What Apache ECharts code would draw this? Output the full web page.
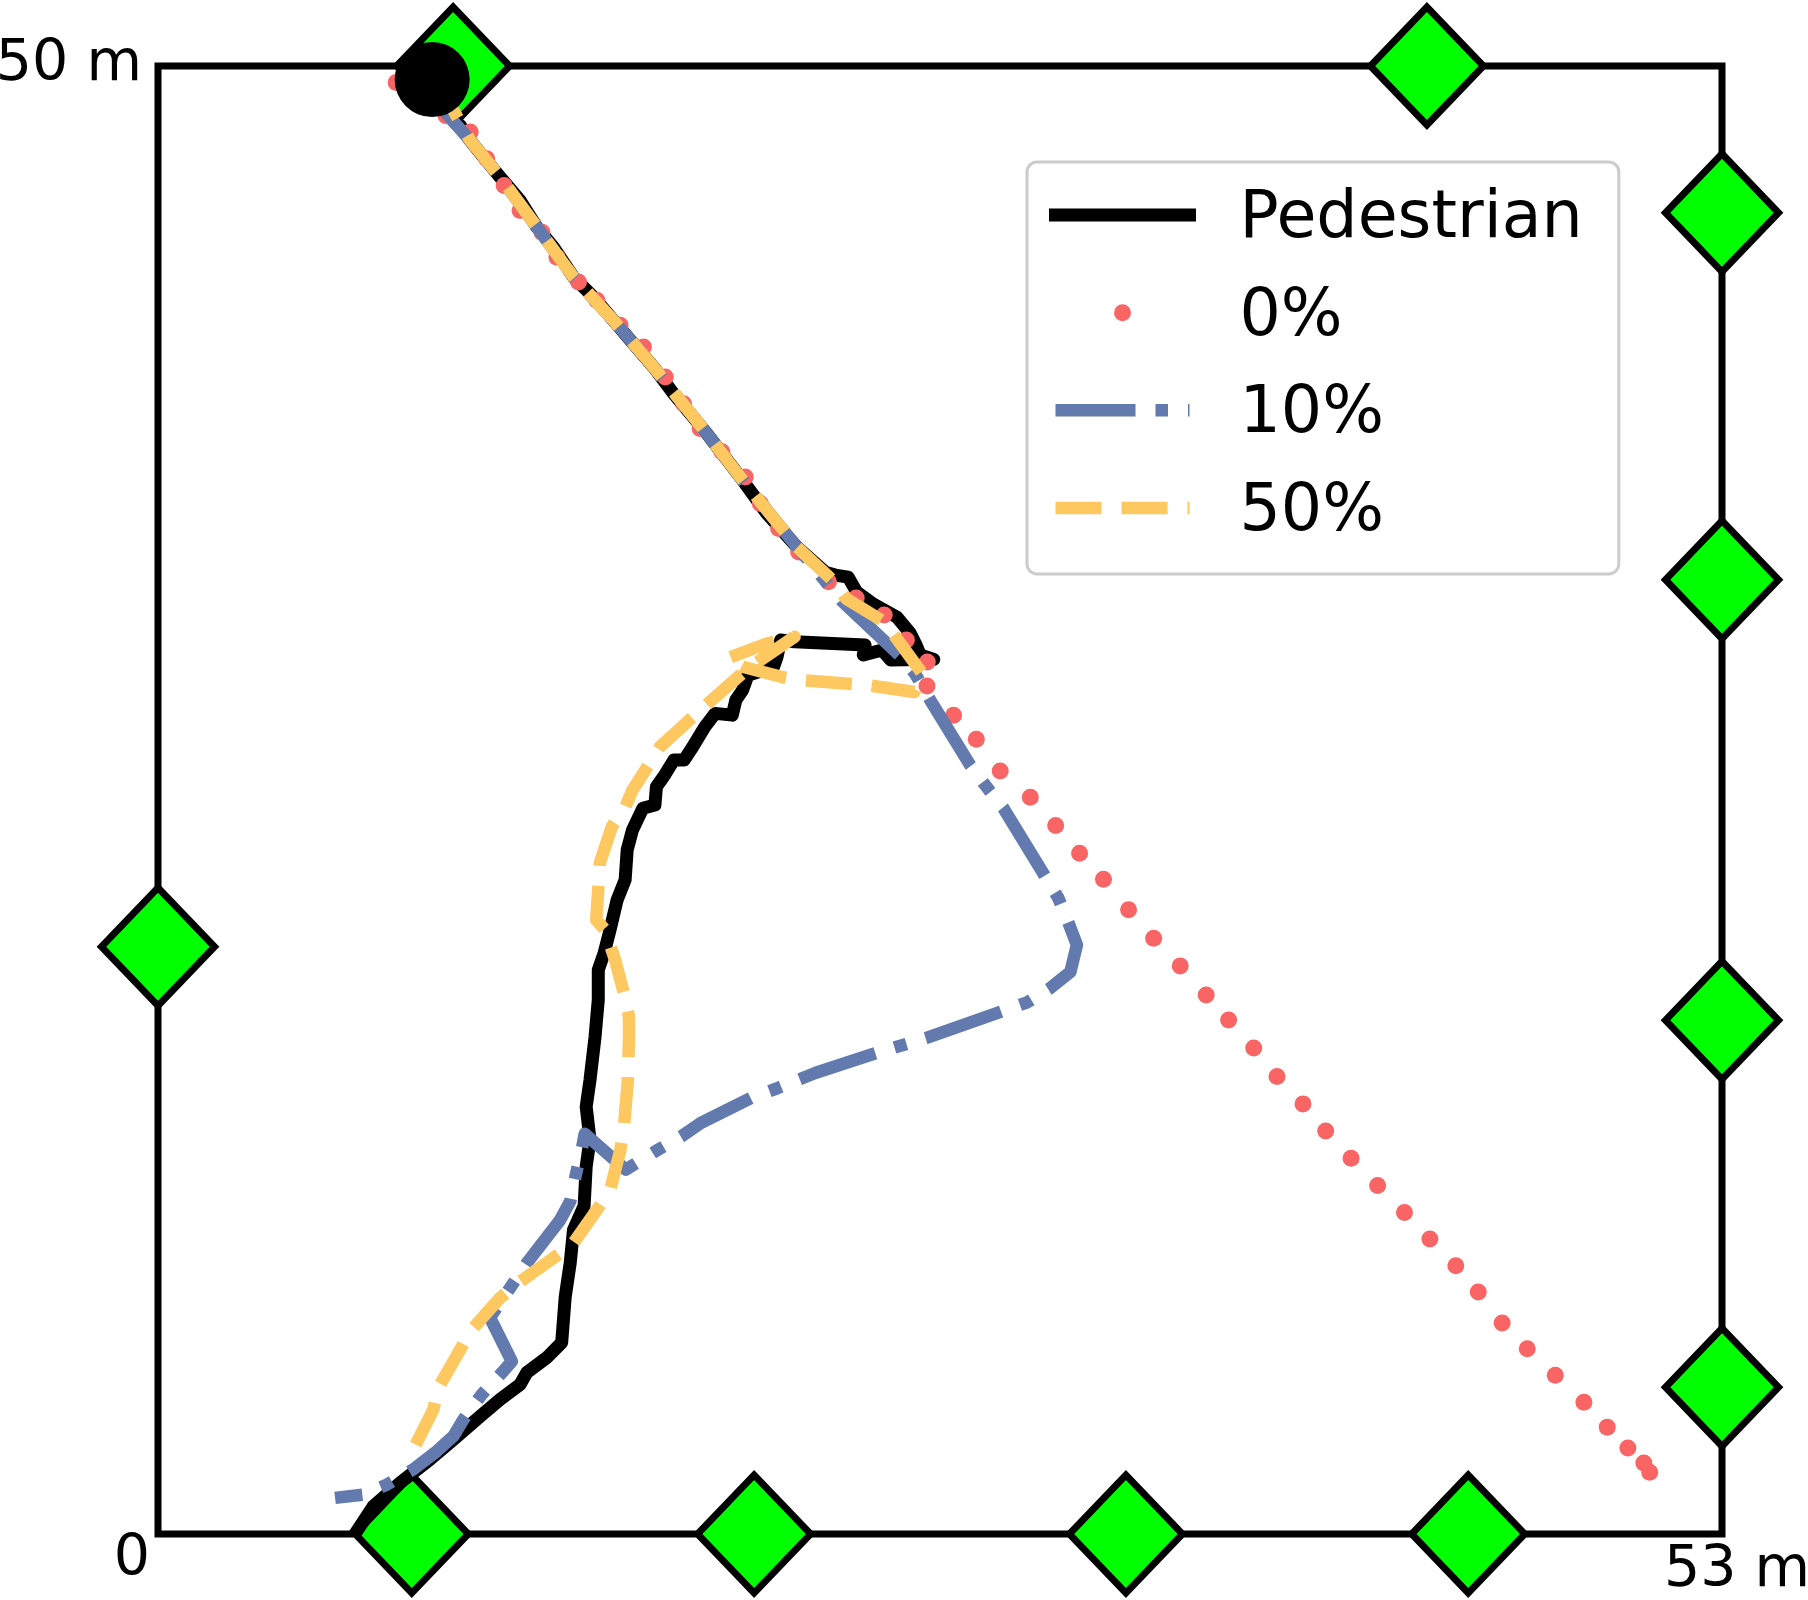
<!DOCTYPE html>
<html>
<head>
<meta charset="utf-8">
<title>Pedestrian tracking</title>
<script src="https://cdn.jsdelivr.net/npm/echarts@6.0.0/dist/echarts.min.js"></script>
<style>
  html, body { margin: 0; padding: 0; background: #fff; }
  #chart { width: 1808px; height: 1600px; }
</style>
</head>
<body>
<div id="chart"></div>
<script>
// room size in metres
var roomWidth = 53;
var roomHeight = 50;

// anchors (green diamonds) placed on the walls, [x, y] in m
var anchors = [
  [10.0, 50], [43.0, 50],
  [53, 45], [53, 32.5], [53, 17.5], [53, 5],
  [0, 20],
  [8.6, 0], [20.2, 0], [32.8, 0], [44.4, 0]
];

// start point of the walk
var startPoint = [[9.29, 49.54]];

// measured pedestrian path
var pedestrian = [
  [9.22,49.47],[9.79,48.37],[10.24,47.98],[10.58,47.46],[11.03,46.90],[11.59,46.22],[12.27,45.42],
  [12.84,44.51],[13.40,43.83],[14.08,42.81],[14.76,42.13],[15.43,41.34],[16.11,40.54],[16.79,39.75],
  [17.47,38.84],[18.60,37.48],[19.73,36.00],[20.63,34.76],[21.65,33.62],[22.61,32.76],[22.95,32.66],
  [23.39,32.59],[23.68,32.08],[24.25,31.67],[25.04,31.23],[25.49,30.68],[25.69,30.28],[25.83,29.94],
  [26.29,29.79],[24.83,29.77],[24.54,30.11],[23.90,29.94],[23.96,30.28],[21.57,30.39],[21.10,30.45],
  [20.98,29.88],[20.86,29.54],[19.99,29.25],[19.81,28.74],[19.58,28.40],[19.46,27.89],[18.88,27.95],
  [18.53,27.49],[18.12,26.81],[17.83,26.36],[17.48,26.36],[17.13,25.79],[16.89,25.45],[16.84,24.83],
  [16.43,24.72],[16.08,23.98],[15.90,23.30],[15.83,22.28],[15.56,21.60],[15.32,20.58],[15.12,19.79],
  [14.92,19.21],[14.92,18.19],[14.81,16.93],[14.64,15.47],[14.51,14.55],[14.64,13.43],[14.51,12.51],
  [14.44,11.18],[14.08,10.36],[13.97,9.24],[13.80,8.08],[13.68,6.52],[13.18,6.01],[12.50,5.50],
  [12.27,5.09],[11.59,4.58],[10.92,4.01],[10.01,3.22],[9.22,2.54],[8.20,1.74],[7.30,0.95],[6.74,0.10]
];

// estimate with 0 % (dots)
var est0 = [
  [8.07,49.44],[8.92,48.89],[9.76,48.31],[10.58,47.75],[11.14,46.84],[11.73,45.93],[12.27,45.08],
  [13.01,44.34],[13.52,43.49],[14.25,42.64],[14.87,42.02],[15.66,41.17],[16.45,40.43],[17.19,39.41],
  [17.81,38.50],[18.37,37.65],[19.11,36.86],[19.90,36.00],[20.41,35.10],[21.03,34.25],[21.71,33.45],
  [22.72,32.43],[23.66,31.88],[24.61,31.30],[25.36,30.45],[26.07,29.70],[26.06,28.88],[26.96,27.89],
  [27.73,27.07],[28.54,25.99],[29.56,25.09],[30.42,24.13],[31.23,23.19],[32.04,22.30],[32.89,21.26],
  [33.74,20.29],[34.64,19.35],[35.52,18.36],[36.28,17.51],[37.13,16.55],[37.92,15.58],[38.80,14.65],
  [39.57,13.73],[40.43,12.80],[41.33,11.87],[42.24,10.95],[43.10,10.05],[43.98,9.14],[44.74,8.24],
  [45.55,7.19],[46.40,6.31],[47.35,5.41],[48.32,4.49],[49.11,3.64],[49.81,2.93],[50.35,2.42],[50.55,2.10]
];

// estimate with 10 %
var est10 = [
  [9.22,49.47],[9.79,48.37],[10.58,47.46],[11.59,46.22],[12.84,44.51],[14.08,42.81],[15.43,41.34],
  [16.79,39.75],[18.60,37.48],[19.73,36.00],[21.65,33.62],[23.20,31.75],[25.18,29.88],[25.65,29.31],
  [26.17,28.40],[27.52,26.19],[28.16,25.34],[28.65,24.72],[30.07,22.39],[30.51,21.66],[30.86,20.80],
  [31.14,20.06],[30.92,19.15],[30.20,18.57],[29.46,18.11],[28.57,17.79],[26.02,16.89],[24.33,16.38],
  [22.27,15.70],[21.00,15.19],[20.09,14.85],[18.40,14.00],[17.73,13.54],[16.95,13.09],[15.85,12.41],
  [14.46,13.63],[14.38,13.20],[14.16,12.24],[13.97,11.33],[13.63,10.70],[12.50,9.23],[11.93,8.38],
  [11.25,7.37],[11.99,5.88],[11.65,5.49],[10.97,4.75],[10.35,3.90],[10.01,3.33],[9.45,2.82],
  [8.65,2.20],[7.75,1.68],[6.96,1.34],[6.00,1.23]
];

// estimate with 50 %
var est50 = [
  [9.22,49.47],[9.95,48.60],[10.58,47.46],[11.59,46.22],[12.84,44.51],[14.08,42.81],[15.43,41.34],
  [16.79,39.75],[18.60,37.48],[19.73,36.00],[21.65,33.62],[22.85,32.49],[23.32,31.86],[24.60,31.07],
  [25.07,30.45],[25.94,29.25],[25.63,28.68],[24.07,28.91],[21.86,29.08],[21.15,29.19],[19.81,29.54],
  [19.29,29.82],[20.63,30.33],[21.57,30.56],[19.93,29.43],[18.64,28.29],[18.00,27.72],[17.01,26.81],
  [16.55,26.08],[16.08,25.34],[15.84,24.77],[15.38,24.09],[14.97,22.85],[14.91,21.82],[14.85,20.92],
  [15.15,20.58],[15.49,19.55],[15.79,18.42],[15.96,17.62],[15.96,16.83],[15.92,15.41],[15.79,13.88],
  [15.67,13.09],[15.31,11.67],[14.87,11.04],[14.08,9.91],[13.40,9.40],[12.04,8.43],[11.59,8.04],
  [10.58,6.90],[10.24,6.28],[9.50,4.98],[9.33,4.24],[8.65,2.88]
];

var font = 'DejaVu Sans';
var lineW = 12.5;

var chart = echarts.init(document.getElementById('chart'));

var option = {
  animation: false,
  backgroundColor: '#fff',
  grid: {
    left: 158, right: 86, top: 66, bottom: 66,
    containLabel: false,
    outerBoundsMode: 'none',
    show: true,
    borderColor: '#000',
    borderWidth: 7,
    backgroundColor: 'transparent'
  },
  legend: {
    data: [
      { name: 'Pedestrian', itemStyle: { opacity: 0 } },
      { name: '0%' },
      { name: '10%', itemStyle: { opacity: 0 } },
      { name: '50%', itemStyle: { opacity: 0 } }
    ],
    orient: 'vertical',
    left: 1027,
    top: 162,
    itemWidth: 134,
    itemHeight: 17,
    itemGap: 22.6,
    padding: [15.6, 36, 28.5, 22],
    backgroundColor: 'rgba(255,255,255,0.8)',
    borderColor: '#cccccc',
    borderWidth: 3,
    borderRadius: 10,
    lineStyle: { width: 'inherit' },
    formatter: function (name) {
      return '{n|' + name + '}';
    },
    textStyle: {
      fontFamily: font,
      fontSize: 65,
      color: '#000',
      rich: {
        n: { fontFamily: font, fontSize: 65, lineHeight: 72, padding: [10, 0, 0, 45] }
      }
    }
  },
  xAxis: {
    type: 'value',
    min: 0,
    max: roomWidth,
    interval: roomWidth,
    axisLine: { show: false },
    axisTick: { show: false },
    splitLine: { show: false },
    axisLabel: {
      margin: -2,
      color: '#000',
      fontFamily: font,
      fontSize: 57,
      formatter: function (v) {
        if (v === 0) return '{o|0}';
        if (v === roomWidth) return '{e|' + roomWidth + ' m}';
        return '';
      },
      rich: {
        o: { fontFamily: font, fontSize: 57, lineHeight: 57, padding: [0, 52, 0, 0] },
        e: { fontFamily: font, fontSize: 57, lineHeight: 57, padding: [22, 0, 0, 30] }
      }
    }
  },
  yAxis: {
    type: 'value',
    min: 0,
    max: roomHeight,
    interval: roomHeight,
    axisLine: { show: false },
    axisTick: { show: false },
    splitLine: { show: false },
    axisLabel: {
      margin: 16,
      color: '#000',
      fontFamily: font,
      fontSize: 57,
      formatter: function (v) {
        return v === roomHeight ? '{t|' + roomHeight + ' m}' : '';
      },
      rich: {
        t: { fontFamily: font, fontSize: 57, lineHeight: 57, padding: [0, 0, 2, 0] }
      }
    }
  },
  series: [
    {
      name: 'anchors',
      type: 'scatter',
      data: anchors,
      symbol: 'diamond',
      symbolSize: [113, 118],
      clip: false,
      z: 1,
      itemStyle: { color: '#00ff00', borderColor: '#000', borderWidth: 7, opacity: 1 }
    },
    {
      name: 'Pedestrian',
      type: 'line',
      data: pedestrian,
      symbol: 'none',
      clip: false,
      z: 2,
      lineStyle: { color: '#000', width: 13, cap: 'square', join: 'round' },
      itemStyle: { color: '#000' }
    },
    {
      name: '0%',
      type: 'scatter',
      data: est0,
      symbol: 'circle',
      symbolSize: 17,
      clip: false,
      z: 3,
      itemStyle: { color: '#f96565', opacity: 1 }
    },
    {
      name: '10%',
      type: 'line',
      data: est10,
      symbol: 'none',
      clip: false,
      z: 4,
      lineStyle: { color: '#627aad', width: lineW, type: [80, 20, 12.5, 20], cap: 'butt', join: 'round' },
      itemStyle: { color: '#627aad' }
    },
    {
      name: '50%',
      type: 'line',
      data: est50,
      symbol: 'none',
      clip: false,
      z: 5,
      lineStyle: { color: '#fdc860', width: lineW, type: [46, 20], cap: 'butt', join: 'round' },
      itemStyle: { color: '#fdc860' }
    },
    {
      name: 'start',
      type: 'scatter',
      data: startPoint,
      symbol: 'circle',
      symbolSize: 75,
      clip: false,
      z: 6,
      itemStyle: { color: '#000', opacity: 1 }
    }
  ]
};

chart.setOption(option);
</script>
</body>
</html>
